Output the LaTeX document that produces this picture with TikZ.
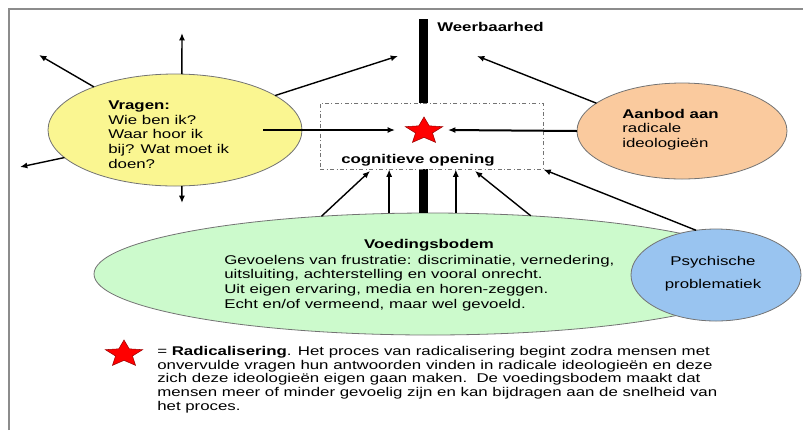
\documentclass[tikz,border=0pt]{standalone}
\usepackage{fontspec}
\setmainfont{Liberation Sans}[FakeStretch=1.33]
\usepackage{xcolor}
\usepackage{tikz}
\usetikzlibrary{shapes.geometric,arrows.meta,positioning}
\definecolor{geel}{RGB}{250,246,145}
\definecolor{oranje}{RGB}{250,202,158}
\definecolor{groen}{RGB}{204,250,204}
\definecolor{blauw}{RGB}{153,196,240}

\begin{document}
\begin{tikzpicture}[
	x=0.75pt, y=-0.75pt,
	font=\fontsize{9.5}{11}\selectfont,
	>={Latex[length=5.5pt,width=4.5pt]},
	wolk/.style={ellipse, draw=black!55, line width=0.6pt, inner sep=0pt, outer sep=0pt},
	tekst/.style={inner sep=0pt, align=left},
	pijl/.style={->, line width=1.05pt},
	dikpijl/.style={->, line width=1.5pt},
	ster/.style={star, star points=5, star point ratio=2.2, fill=red, draw=red!60!black, line width=0.4pt, minimum size=21pt, inner sep=0pt, transform shape},
]
\useasboundingbox (0,0) rectangle (803,430);
\draw[black!45, line width=1.2pt] (9,430) -- (9,9) -- (803,9);

% voedingsbodem en weerbaarheid
\node[wolk, fill=groen, minimum width=504pt, minimum height=91.5pt] (voed) at (430,274) {};
\coordinate (bartop) at (423,19);
\draw[line width=6.75pt] (bartop) -- (bartop |- voed.north);
\node[draw=black!55, dash dot, line width=0.7pt, fill=white, minimum width=167.25pt, minimum height=49.5pt, inner sep=0pt] (opening) at (431.5,136) {};
\begin{scope}[shift={(424,131)}, xscale=1.4]
	\node[ster] (ster) at (0,0) {};
\end{scope}
\node[tekst] (cogn) at (418,160) {\textbf{cognitieve opening}};
\node[tekst, anchor=west] (weer) at (437,27) {\textbf{Weerbaarhed}};

% de wolken
\node[wolk, fill=geel, minimum width=190.5pt, minimum height=84pt] (vragen) at (175,130) {};
\node[tekst, anchor=west] (vragentekst) at (108,134.5) {\textbf{Vragen:}\\Wie ben ik?\\Waar hoor ik\\bij? Wat moet ik\\doen?};
\node[wolk, fill=oranje, minimum width=157.5pt, minimum height=72pt] (aanbod) at (682,131) {};
\node[tekst, anchor=west] (aanbodtekst) at (622,129.5) {\textbf{Aanbod aan}\\radicale\\ideologieën};
\node[wolk, fill=blauw, minimum width=127.5pt, minimum height=69pt] (psych) at (716,275) {};
\node[tekst, align=center, font=\fontsize{9.5}{17}\selectfont] (psychtekst) at (713,273.5) {Psychische\\problematiek};
\node[tekst] (voedtitel) at (429,245) {\textbf{Voedingsbodem}};
\node[tekst, anchor=west] (voedtekst) at (224,283) {Gevoelens van frustratie: discriminatie, vernedering,\\uitsluiting, achterstelling en vooral onrecht.\\Uit eigen ervaring, media en horen-zeggen.\\Echt en/of vermeend, maar wel gevoeld.};

% vrije eindpunten
\coordinate (vboven) at (182,33);
\coordinate (vonder) at (182,203);
\coordinate (vlinksboven) at (39,55);
\coordinate (vlinksonder) at (20,167);
\coordinate (vrechtsboven) at (398,56);
\coordinate (vstart) at (263,130);
\coordinate (sterlinks) at (395,130);
\coordinate (sterrechts) at (448,130);
\coordinate (aboven) at (477,56);
\coordinate (olinks) at (370,171);
\coordinate (orechts) at (475,171);

\draw[pijl] (vragen.83) -- (vboven);
\draw[pijl] (vragen.-83) -- (vonder);
\draw[pijl] (vragen.152) -- (vlinksboven);
\draw[pijl] (vragen.194) -- (vlinksonder);
\draw[pijl] (vragen.19) -- (vrechtsboven);
\draw[dikpijl] (vstart) -- (sterlinks);
\draw[dikpijl] (aanbod.west) -- (sterrechts);
\draw[pijl] (aanbod.162) -- (aboven);
\draw[pijl] (voed.152) -- (olinks);
\draw[pijl] (voed.124) -- (voed.124 |- opening.south);
\draw[pijl] (voed.67) -- (voed.67 |- opening.south);
\draw[pijl] (voed.30) -- (orechts);
\draw[pijl] (psych.114) -- (opening.south east);

% legenda
\begin{scope}[shift={(124,354)}, xscale=1.4]
	\node[ster] (legster) at (0,0) {};
\end{scope}
\node[tekst, anchor=west, font=\fontsize{9.5}{10.3}\selectfont] (uitleg) at (157,379.5) {= \textbf{Radicalisering}. Het proces van radicalisering begint zodra mensen met\\onvervulde vragen hun antwoorden vinden in radicale ideologieën en deze\\zich deze ideologieën eigen gaan maken.\ \ De voedingsbodem maakt dat\\mensen meer of minder gevoelig zijn en kan bijdragen aan de snelheid van\\het proces.};
\end{tikzpicture}
\end{document}
